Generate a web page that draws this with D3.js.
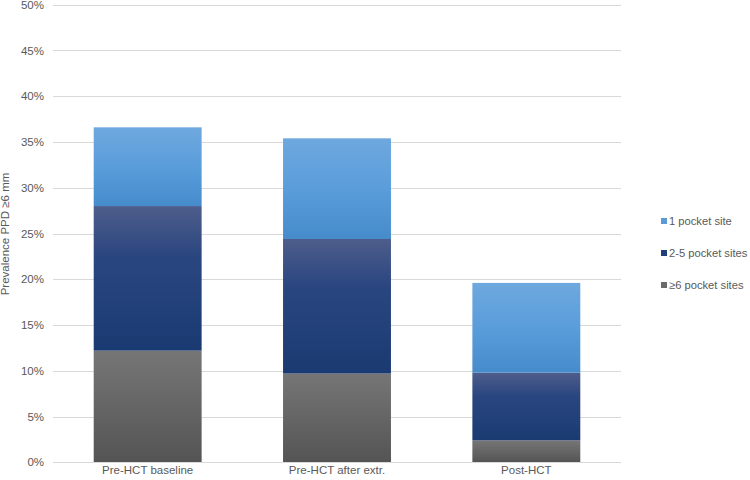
<!DOCTYPE html>
<html><head><meta charset="utf-8">
<script src="https://cdnjs.cloudflare.com/ajax/libs/d3/7.8.5/d3.min.js"></script>
<style>body{margin:0;background:#fff;}svg{display:block;font-family:"Liberation Sans",Arial,sans-serif;}</style>
</head><body>
<svg id="c" width="750" height="480"></svg>
<script>
const categories = ["Pre-HCT baseline", "Pre-HCT after extr.", "Post-HCT"];
const seriesNames = ["≥6 pocket sites", "2-5 pocket sites", "1 pocket site"];
const sixPlus = [12.2, 9.7, 2.4];
const twoToFive = [15.8, 14.7, 7.4];
const onePocket = [8.6, 11.0, 9.8];
const yTicks = [0, 5, 10, 15, 20, 25, 30, 35, 40, 45, 50];
const yLabel = "Prevalence PPD ≥6 mm";

(function () {
const svg = d3.select("#c");
const mLeft = 53, mRight = 621, mTop = 4.7, mBottom = 462.3;
const x = d3.scaleBand().domain(categories).range([mLeft, mRight]).paddingInner(0.43).paddingOuter(0.215);
const y = d3.scaleLinear().domain([0, 50]).range([mBottom, mTop]);

const defs = svg.append("defs");
const grads = [
  {id: "g0", stops: [["0%", "#767676"], ["100%", "#545454"]], solid: "#6b6b6b"},
  {id: "g1", stops: [["0%", "#4e5d8b"], ["35%", "#2a4680"], ["100%", "#1a3a72"]], solid: "#1f3e7a"},
  {id: "g2", stops: [["0%", "#6ea8de"], ["50%", "#5a9ddb"], ["100%", "#468bcb"]], solid: "#5b9bd5"}
];
grads.forEach(g => {
  const lg = defs.append("linearGradient").attr("id", g.id).attr("x1", 0).attr("y1", 0).attr("x2", 0).attr("y2", 1);
  g.stops.forEach(s => lg.append("stop").attr("offset", s[0]).attr("stop-color", s[1]));
});

// gridlines
svg.append("g").selectAll("line").data(yTicks).join("line")
  .attr("x1", mLeft).attr("x2", mRight)
  .attr("y1", d => Math.round(y(d)) + 0.5).attr("y2", d => Math.round(y(d)) + 0.5)
  .attr("stroke", "#d9d9d9").attr("stroke-width", 1);

// y axis labels
const yAxis = d3.axisLeft(y).tickValues(yTicks).tickFormat(d => d + "%").tickSize(0).tickPadding(0);
const ya = svg.append("g").attr("transform", `translate(${mLeft - 9},0)`).call(yAxis);
ya.select(".domain").remove();
ya.selectAll("text").attr("fill", "#595959").attr("font-size", 11.5).attr("font-family", "Liberation Sans, Arial, sans-serif");

// stacked data
const rows = categories.map((c, i) => ({cat: c, s0: sixPlus[i], s1: twoToFive[i], s2: onePocket[i]}));
const stack = d3.stack().keys(["s0", "s1", "s2"])(rows);

svg.append("g").selectAll("g").data(stack).join("g")
  .attr("fill", (d, i) => `url(#g${i})`)
  .selectAll("rect").data(d => d).join("rect")
  .attr("x", d => x(d.data.cat))
  .attr("width", x.bandwidth())
  .attr("y", d => y(d[1]))
  .attr("height", d => y(d[0]) - y(d[1]));

// x axis line
svg.append("line").attr("x1", mLeft).attr("x2", mRight).attr("y1", Math.round(mBottom) + 0.5).attr("y2", Math.round(mBottom) + 0.5)
  .attr("stroke", "#d9d9d9");

// x labels
const xAxis = d3.axisBottom(x).tickSize(0).tickPadding(0);
const xa = svg.append("g").attr("transform", `translate(0,${mBottom + 4})`).call(xAxis);
xa.select(".domain").remove();
xa.selectAll("text").attr("fill", "#595959").attr("font-size", 11.5).attr("font-family", "Liberation Sans, Arial, sans-serif");

// y label
svg.append("text").attr("transform", `translate(9,234) rotate(-90)`).attr("text-anchor", "middle")
  .attr("fill", "#595959").attr("font-size", 11.5).text(yLabel);

// legend
const legendOrder = [2, 1, 0];
const lgd = svg.append("g");
legendOrder.forEach((si, k) => {
  const cy = 221 + k * 32;
  lgd.append("rect").attr("x", 661).attr("y", cy - 3).attr("width", 6).attr("height", 6).attr("fill", grads[si].solid);
  lgd.append("text").attr("x", 669).attr("y", cy + 4).attr("fill", "#595959").attr("font-size", 11.2).text(seriesNames[si]);
});
})();
</script>
</body></html>
